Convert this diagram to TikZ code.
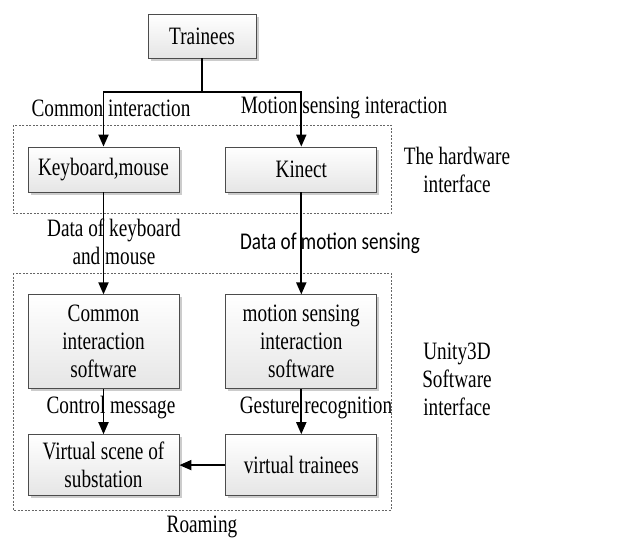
\documentclass[tikz,border=0pt]{standalone}
\usepackage{fontspec}
\setmainfont{Liberation Serif}[FakeStretch=0.77]
\newfontfamily\calfont{Carlito}[FakeStretch=0.8]
\usetikzlibrary{arrows.meta,positioning,shadows}
\tikzset{
  blk/.style={draw=black!70,line width=0.8pt,top color=white,bottom color=black!10,
              drop shadow={shadow xshift=2.5pt,shadow yshift=-2.5pt,fill=black!40},
              minimum width=151pt,inner sep=0pt,align=center,
              font=\fontsize{25}{28}\selectfont},
  grp/.style={draw=black!60,dash pattern=on 2pt off 1.5pt,line width=0.6pt},
  flow/.style={-{Triangle[length=12pt,width=10pt]},line width=1.8pt},
  lbl/.style={align=center,inner sep=0pt,font=\fontsize{25}{28}\selectfont},
}
\begin{document}
\begin{tikzpicture}[x=1pt,y=-1pt]
  \useasboundingbox (0,0) rectangle (633,538);
  % groups
  \draw[grp] (13,125) rectangle (391,213);
  \draw[grp] (13,273) rectangle (391,510);
  % blocks
  \node[blk,minimum width=108pt,minimum height=44pt](tr) at (202,36){Trainees};
  \node[blk,minimum height=45pt](kb) at (103.5,169.5){Keyboard,mouse};
  \node[blk,minimum height=45pt,right=46pt of kb](kn){Kinect};
  \node[blk,minimum height=94pt,below=102pt of kb](cs){Common\\interaction\\software};
  \node[blk,minimum height=94pt,right=46pt of cs](ms){motion sensing\\interaction\\software};
  \node[blk,minimum height=61pt,below=45pt of cs](vs){Virtual scene of\\substation};
  \node[blk,minimum height=61pt,right=46pt of vs](vt){virtual trainees};
  % connectors
  \coordinate (fork) at (202,92);
  \draw[flow] (tr.south) -- (fork) -| (kb.north);
  \draw[flow] (fork) -| (kn.north);
  \draw[flow] (kb) -- (cs);
  \draw[flow] (kn) -- (ms);
  \draw[flow] (cs) -- (vs);
  \draw[flow] (ms) -- (vt);
  \draw[flow] (vt) -- (vs);
  % labels
  \node[lbl](l1) at (111,108){Common interaction};
  \node[lbl](l2) at (344,108){Motion sensing interaction};
  \node[lbl](l3) at (114,242){Data of keyboard\\and mouse};
  \node[lbl,font=\calfont\fontsize{24}{28}\selectfont](l4) at (330,243){Data of motion sensing};
  \node[lbl](l5) at (111,408){Control message};
  \node[lbl](l6) at (316,408){Gesture recognition};
  \node[lbl](l7) at (202,527){Roaming};
  \node[lbl](hw) at (457,170){The hardware\\interface};
  \node[lbl](sw) at (457,379){Unity3D\\Software\\interface};
\end{tikzpicture}
\end{document}
